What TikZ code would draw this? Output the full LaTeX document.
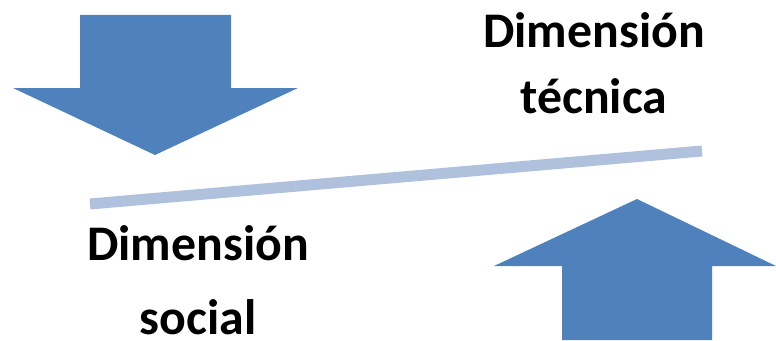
\documentclass[tikz,border=0pt]{standalone}
\usepackage{fontspec}
\setmainfont{Carlito}
\definecolor{arrowblue}{RGB}{79,129,189}
\definecolor{beamblue}{RGB}{176,193,222}

\begin{document}
\begin{tikzpicture}[
      x=1bp, y=1bp,
      bigarrow/.style={fill=arrowblue, draw=none},
      beam/.style={draw=beamblue, line width=11bp},
      dimtext/.style={font=\fontsize{50}{60}\selectfont\bfseries, anchor=base, inner sep=0pt}
      ]
  \useasboundingbox (0,0) rectangle (776,340);

  % arrows
  \fill[bigarrow] (80,325) -- (231,325) -- (231,252) -- (298,252) -- (155,185)
    -- (13,252) -- (80,252) -- cycle;
  \fill[bigarrow] (562,0) -- (712,0) -- (712,74) -- (776,74) -- (637,141)
    -- (494,74) -- (562,74) -- cycle;

  % balance beam
  \coordinate (beamL) at (90,136);
  \coordinate (beamR) at (702,189);
  \draw[beam] (beamL) -- (beamR);

  % labels
  \node[dimtext] (tec1) at (594,293) {Dimensión};
  \node[dimtext] (tec2) at (594,227) {técnica};
  \node[dimtext] (soc1) at (198,80) {Dimensión};
  \node[dimtext] (soc2) at (198,6) {social};

\end{tikzpicture}
\end{document}
